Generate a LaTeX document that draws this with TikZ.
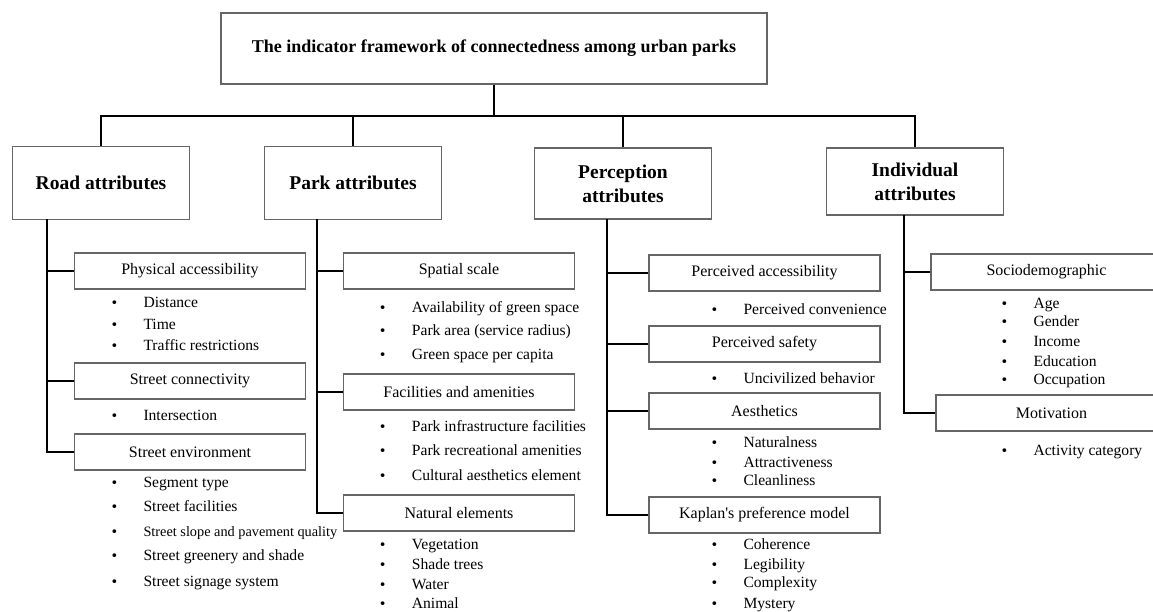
\documentclass[tikz,border=0pt]{standalone}
\usepackage{fontspec}
\setmainfont{Liberation Serif}
\newfontfamily\bulfont{DejaVu Sans}
\usetikzlibrary{positioning}

\newcommand{\bul}{\makebox[32pt][l]{\kern-1pt{\bulfont\fontsize{13}{13}\selectfont •}}}

\tikzset{
  boxline/.style={draw=black!60, line width=1.1pt},
  topbox/.style={boxline, minimum width=546pt, minimum height=71pt,
    font=\bfseries\fontsize{18}{22}\selectfont},
  catbox/.style={boxline, minimum width=177pt, minimum height=73pt, align=center,
    font=\bfseries\fontsize{19.5}{24}\selectfont},
  subbox/.style={boxline, minimum width=231pt, minimum height=36pt,
    font=\fontsize{16}{19}\selectfont},
  entry/.style={anchor=west, inner sep=0pt, text height=11pt, text depth=3pt,
    font=\fontsize{15.6}{18}\selectfont},
  link/.style={line width=2pt, black},
}

\begin{document}
\begin{tikzpicture}[x=1pt, y=-1pt]
  \useasboundingbox (0,0) rectangle (1153,612);
  \clip (0,0) rectangle (1153,612);

  % title and main groups
  \node (top) [topbox] at (494,48.5) {The indicator framework of connectedness among urban parks};
  \node (road) [catbox] at (101,183) {Road attributes};
  \node (park) [catbox] at (353,183) {Park attributes};
  \node (perc) [catbox, minimum height=71pt] at (623,183.5) {Perception\\attributes};
  \node (indiv) [catbox, minimum height=67pt] at (915,181.5) {Individual\\attributes};

  \coordinate (bus) at (494,116);
  \draw[link] (top.south) -- (bus);
  \draw[link] (road.north) |- (bus) -| (indiv.north);
  \draw[link] (park.north) -- (park.north |- bus);
  \draw[link] (perc.north) -- (perc.north |- bus);

  % road attributes
  \node (phys) [subbox] at (190,271) {Physical accessibility};
  \node (sconn) [subbox] at (190,381) {Street connectivity};
  \node (senv) [subbox] at (190,452) {Street environment};
  \coordinate (roadtrunk) at (47,219.5);
  \draw[link] (roadtrunk) |- (senv.west);
  \draw[link] (roadtrunk |- phys.west) -- (phys.west);
  \draw[link] (roadtrunk |- sconn.west) -- (sconn.west);

  \node (r1) [entry] at (111.3,303.3) {\bul Distance};
  \node (r2) [entry] at (111.3,325) {\bul Time};
  \node (r3) [entry] at (111.3,346.7) {\bul Traffic restrictions};
  \node (r4) [entry] at (111.3,416) {\bul Intersection};
  \node (r5) [entry] at (111.3,483.3) {\bul Segment type};
  \node (r6) [entry] at (111.3,507.7) {\bul Street facilities};
  \node (r7) [entry] at (111.3,532.3) {\bul{\fontsize{14.3}{17}\selectfont Street slope and pavement quality}};
  \node (r8) [entry] at (111.3,556.7) {\bul Street greenery and shade};
  \node (r9) [entry] at (111.3,582.7) {\bul Street signage system};

  % park attributes
  \node (spat) [subbox] at (459,271) {Spatial scale};
  \node (facil) [subbox] at (459,392) {Facilities and amenities};
  \node (natur) [subbox] at (459,513) {Natural elements};
  \coordinate (parktrunk) at (317,219.5);
  \draw[link] (parktrunk) |- (natur.west);
  \draw[link] (parktrunk |- spat.west) -- (spat.west);
  \draw[link] (parktrunk |- facil.west) -- (facil.west);

  \node (p1) [entry] at (379.7,308) {\bul Availability of green space};
  \node (p2) [entry] at (379.7,331.7) {\bul Park area (service radius)};
  \node (p3) [entry] at (379.7,355) {\bul Green space per capita};
  \node (p4) [entry] at (379.7,427) {\bul Park infrastructure facilities};
  \node (p5) [entry] at (379.7,451.7) {\bul Park recreational amenities};
  \node (p6) [entry] at (379.7,476.7) {\bul Cultural aesthetics element};
  \node (p7) [entry] at (379.7,545.7) {\bul Vegetation};
  \node (p8) [entry] at (379.7,565.7) {\bul Shade trees};
  \node (p9) [entry] at (379.7,585.7) {\bul Water};
  \node (p10) [entry] at (379.7,604) {\bul Animal};

  % perception attributes
  \node (pacc) [subbox] at (764.5,273) {Perceived accessibility};
  \node (psafe) [subbox] at (764.5,344) {Perceived safety};
  \node (aesth) [subbox] at (764.5,411) {Aesthetics};
  \node (kapl) [subbox] at (764.5,515) {Kaplan\textquotesingle s preference model};
  \coordinate (perctrunk) at (607,219);
  \draw[link] (perctrunk) |- (kapl.west);
  \draw[link] (perctrunk |- pacc.west) -- (pacc.west);
  \draw[link] (perctrunk |- psafe.west) -- (psafe.west);
  \draw[link] (perctrunk |- aesth.west) -- (aesth.west);

  \node (q1) [entry] at (711.3,310) {\bul Perceived convenience};
  \node (q2) [entry] at (711.3,379.3) {\bul Uncivilized behavior};
  \node (q3) [entry] at (711.3,443.3) {\bul Naturalness};
  \node (q4) [entry] at (711.3,463.3) {\bul Attractiveness};
  \node (q5) [entry] at (711.3,481.3) {\bul Cleanliness};
  \node (q6) [entry] at (711.3,545.3) {\bul Coherence};
  \node (q7) [entry] at (711.3,565.3) {\bul Legibility};
  \node (q8) [entry] at (711.3,583.7) {\bul Complexity};
  \node (q9) [entry] at (711.3,604) {\bul Mystery};

  % individual attributes
  \node (socio) [subbox] at (1046.5,272) {Sociodemographic};
  \node (motiv) [subbox] at (1051.5,413) {Motivation};
  \coordinate (indivtrunk) at (904,215);
  \draw[link] (indivtrunk) |- (motiv.west);
  \draw[link] (indivtrunk |- socio.west) -- (socio.west);

  \node (i1) [entry] at (1001.3,304.7) {\bul Age};
  \node (i2) [entry] at (1001.3,322.7) {\bul Gender};
  \node (i3) [entry] at (1001.3,342.3) {\bul Income};
  \node (i4) [entry] at (1001.3,362.7) {\bul Education};
  \node (i5) [entry] at (1001.3,380.7) {\bul Occupation};
  \node (i6) [entry] at (1001.3,451.7) {\bul Activity category};
\end{tikzpicture}
\end{document}
